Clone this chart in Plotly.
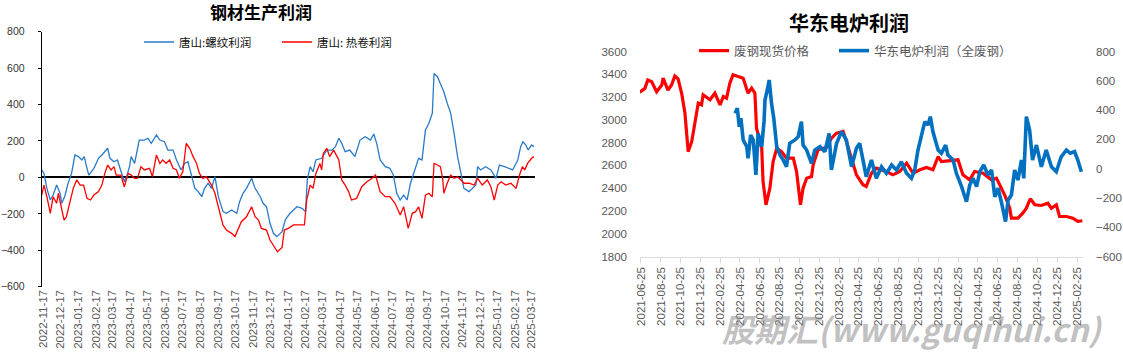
import plotly.graph_objects as go

# ---------------- Left chart: 钢材生产利润 ----------------
rebar_dates = ["2022-11-14","2022-11-18","2022-11-23","2022-11-29","2022-12-04","2022-12-10","2022-12-16","2022-12-19","2022-12-24","2022-12-30",
 "2023-01-05","2023-01-11","2023-01-17","2023-01-23","2023-01-27","2023-02-01","2023-02-04","2023-02-13","2023-02-21","2023-02-27",
 "2023-03-04","2023-03-09","2023-03-13","2023-03-20","2023-03-26","2023-04-01","2023-04-07","2023-04-11","2023-04-16","2023-04-19",
 "2023-04-25","2023-05-03","2023-05-12","2023-05-18","2023-05-24","2023-06-02","2023-06-08","2023-06-16","2023-06-22","2023-07-01",
 "2023-07-07","2023-07-15","2023-07-21","2023-07-27","2023-08-02","2023-08-08","2023-08-14","2023-08-20","2023-08-25","2023-08-31",
 "2023-09-06","2023-09-12","2023-09-18","2023-09-26","2023-10-02","2023-10-11","2023-10-20","2023-10-25","2023-10-31","2023-11-06",
 "2023-11-15","2023-11-21","2023-11-30","2023-12-05","2023-12-11","2023-12-17","2023-12-23","2023-12-29","2024-01-07","2024-01-13",
 "2024-01-21","2024-02-02","2024-02-11","2024-02-17","2024-02-20","2024-02-25","2024-03-01","2024-03-06","2024-03-16","2024-03-25",
 "2024-04-03","2024-04-09","2024-04-15","2024-04-20","2024-04-26","2024-05-04","2024-05-13","2024-05-22","2024-05-31","2024-06-09",
 "2024-06-15","2024-06-20","2024-06-26","2024-07-05","2024-07-13","2024-07-19","2024-07-25","2024-07-31","2024-08-06","2024-08-12",
 "2024-08-18","2024-08-24","2024-09-01","2024-09-07","2024-09-13","2024-09-19","2024-09-25","2024-09-28","2024-10-04","2024-10-10",
 "2024-10-15","2024-10-21","2024-10-27","2024-11-02","2024-11-08","2024-11-14","2024-11-19","2024-11-28","2024-12-04","2024-12-10",
 "2024-12-13","2024-12-18","2024-12-27","2025-01-05","2025-01-14","2025-01-20","2025-01-29","2025-02-06","2025-02-12","2025-02-21",
 "2025-02-26","2025-03-02","2025-03-07","2025-03-11","2025-03-17","2025-03-21"]
rebar_profit = [41,22,-60,-124,-97,-42,-87,-142,-106,-32,
 22,123,114,96,114,41,13,50,105,123,
 141,160,105,86,96,41,-24,4,59,114,
 77,205,205,215,187,233,205,196,150,150,
 96,41,77,86,4,-60,-78,-106,-60,-32,
 -60,4,-106,-188,-197,-179,-197,-133,-87,-60,
 -5,-60,-106,-142,-161,-252,-307,-325,-298,-230,
 -197,-161,-170,-188,-14,59,31,96,105,150,
 150,169,215,187,141,150,114,205,223,205,
 238,187,96,59,50,13,-87,-124,-97,-124,
 -32,22,105,96,260,297,352,571,553,507,
 470,407,352,242,114,22,-60,-78,-60,-42,
 59,41,59,41,-5,68,59,50,41,96,
 169,196,178,150,178,169]

coil_dates = ["2022-11-14","2022-11-18","2022-11-23","2022-11-29","2022-12-04","2022-12-10","2022-12-13","2022-12-19","2022-12-23","2022-12-27",
 "2023-01-02","2023-01-08","2023-01-14","2023-01-20","2023-01-26","2023-02-01","2023-02-07","2023-02-13","2023-02-21","2023-02-27",
 "2023-03-04","2023-03-09","2023-03-15","2023-03-20","2023-03-24","2023-04-01","2023-04-07","2023-04-14","2023-04-19","2023-04-25",
 "2023-04-30","2023-05-06","2023-05-12","2023-05-21","2023-05-26","2023-06-02","2023-06-08","2023-06-13","2023-06-19","2023-06-25",
 "2023-07-01","2023-07-07","2023-07-12","2023-07-18","2023-07-24","2023-07-30","2023-08-05","2023-08-11","2023-08-16","2023-08-22",
 "2023-08-28","2023-09-06","2023-09-12","2023-09-18","2023-09-26","2023-10-02","2023-10-11","2023-10-17","2023-10-22","2023-10-28",
 "2023-11-06","2023-11-15","2023-11-21","2023-11-27","2023-12-02","2023-12-11","2023-12-17","2023-12-23","2023-12-30","2024-01-07",
 "2024-01-11","2024-01-18","2024-01-27","2024-02-08","2024-02-15","2024-02-19","2024-02-25","2024-03-01","2024-03-06","2024-03-13",
 "2024-03-16","2024-03-19","2024-03-25","2024-03-30","2024-04-06","2024-04-12","2024-04-15","2024-04-20","2024-04-26","2024-05-02",
 "2024-05-07","2024-05-16","2024-05-25","2024-06-03","2024-06-12","2024-06-18","2024-06-26","2024-07-05","2024-07-13","2024-07-22",
 "2024-07-31","2024-08-06","2024-08-14","2024-08-21","2024-08-27","2024-09-01","2024-09-07","2024-09-13","2024-09-19","2024-09-25",
 "2024-09-28","2024-10-04","2024-10-09","2024-10-13","2024-10-15","2024-10-21","2024-10-27","2024-11-02","2024-11-08","2024-11-14",
 "2024-11-19","2024-11-28","2024-12-07","2024-12-13","2024-12-21","2024-12-30","2025-01-05","2025-01-11","2025-01-17","2025-01-23",
 "2025-01-31","2025-02-09","2025-02-18","2025-02-24","2025-03-01","2025-03-05","2025-03-10","2025-03-17","2025-03-21"]
coil_profit = [-97,-42,-106,-197,-106,-142,-87,-179,-234,-216,
 -142,-60,-14,-42,-42,-115,-124,-97,-78,-42,
 22,68,41,59,13,13,-51,22,13,-5,
 -5,59,41,50,4,123,77,96,77,96,
 50,41,-5,31,187,160,114,77,22,-5,
 4,-42,-87,-161,-261,-289,-307,-325,-289,-243,
 -216,-161,-216,-234,-280,-289,-344,-371,-408,-385,
 -289,-280,-261,-261,-261,-124,-42,-60,22,77,
 41,132,160,114,150,114,96,-14,-42,-78,
 -124,-115,-51,-24,-5,13,-78,-106,-106,-142,
 -206,-161,-280,-197,-188,-161,-225,-97,-87,-106,
 77,68,59,-5,-87,-32,13,-5,4,-14,
 -32,-32,-42,-5,-42,-14,-51,-124,-42,-24,
 -42,-32,-60,13,59,41,77,105,114]

left_ticks = ["2022-11-17","2022-12-17","2023-01-17","2023-02-17","2023-03-17","2023-04-17","2023-05-17","2023-06-17",
 "2023-07-17","2023-08-17","2023-09-17","2023-10-17","2023-11-17","2023-12-17","2024-01-17","2024-02-17","2024-03-17",
 "2024-04-17","2024-05-17","2024-06-17","2024-07-17","2024-08-17","2024-09-17","2024-10-17","2024-11-17","2024-12-17",
 "2025-01-17","2025-02-17","2025-03-17"]

# ---------------- Right chart: 华东电炉利润 ----------------
scrap_dates = ["2021-06-21","2021-07-07","2021-07-16","2021-07-28","2021-08-12","2021-08-28","2021-09-01","2021-09-16","2021-09-27","2021-10-07",
 "2021-10-17","2021-10-28","2021-11-07","2021-11-17","2021-11-28","2021-12-08","2021-12-18","2021-12-28","2022-01-02","2022-01-23",
 "2022-02-07","2022-02-23","2022-03-05","2022-03-15","2022-03-25","2022-04-04","2022-04-25","2022-05-05","2022-05-20","2022-05-31",
 "2022-06-10","2022-06-15","2022-07-01","2022-07-05","2022-07-14","2022-07-26","2022-08-05","2022-08-16","2022-08-31","2022-09-15",
 "2022-10-06","2022-10-16","2022-10-28","2022-11-05","2022-11-16","2022-12-01","2022-12-06","2022-12-21","2023-01-16","2023-01-31",
 "2023-02-16","2023-03-08","2023-03-18","2023-04-18","2023-04-28","2023-05-08","2023-05-18","2023-06-03","2023-06-18","2023-07-19",
 "2023-08-08","2023-08-29","2023-09-19","2023-10-09","2023-10-30","2023-11-19","2023-12-09","2023-12-25","2024-01-04","2024-01-30",
 "2024-02-24","2024-03-10","2024-03-31","2024-04-15","2024-05-11","2024-06-06","2024-06-21","2024-07-01","2024-07-16","2024-08-01",
 "2024-08-06","2024-08-26","2024-09-10","2024-09-21","2024-10-03","2024-10-17","2024-11-06","2024-11-26","2024-12-07","2024-12-22",
 "2025-01-01","2025-01-22","2025-02-11","2025-02-26","2025-03-12"]
scrap_price = [3242,3276,3350,3335,3247,3306,3367,3260,3306,3385,
 3360,3233,3060,2720,2810,2985,3147,3132,3220,3176,
 3234,3132,3205,3190,3322,3395,3380,3366,3234,3278,
 3234,2926,2750,2460,2254,2400,2634,2750,2720,2663,
 2663,2546,2254,2400,2488,2503,2605,2737,2757,2839,
 2883,2898,2810,2517,2473,2430,2415,2532,2576,2546,
 2517,2546,2620,2532,2561,2581,2561,2678,2634,2640,
 2649,2517,2473,2546,2532,2473,2488,2430,2342,2224,
 2137,2137,2180,2224,2307,2254,2248,2268,2224,2254,
 2151,2151,2137,2108,2114]

eaf_dates = ["2022-04-10","2022-04-17","2022-04-23","2022-04-28","2022-05-05","2022-05-16","2022-05-20","2022-05-28","2022-06-05","2022-06-13",
 "2022-06-20","2022-07-01","2022-07-08","2022-07-11","2022-07-18","2022-07-24","2022-07-31","2022-08-07","2022-08-16","2022-08-26",
 "2022-09-05","2022-09-15","2022-09-25","2022-10-11","2022-10-21","2022-10-31","2022-11-05","2022-11-16","2022-12-01","2022-12-11",
 "2022-12-27","2023-01-11","2023-01-24","2023-01-31","2023-02-16","2023-03-03","2023-03-18","2023-04-03","2023-04-18","2023-04-28",
 "2023-05-08","2023-05-18","2023-06-03","2023-06-18","2023-07-04","2023-07-19","2023-08-04","2023-08-19","2023-09-03","2023-09-19",
 "2023-10-04","2023-10-14","2023-10-24","2023-11-04","2023-11-14","2023-11-24","2023-12-01","2023-12-09","2023-12-25","2024-01-04",
 "2024-01-17","2024-01-24","2024-02-09","2024-02-19","2024-03-06","2024-03-21","2024-03-31","2024-04-10","2024-04-21","2024-05-01",
 "2024-05-13","2024-05-26","2024-06-06","2024-06-16","2024-06-26","2024-07-06","2024-07-19","2024-07-27","2024-08-06","2024-08-16",
 "2024-08-26","2024-09-06","2024-09-13","2024-09-21","2024-10-01","2024-10-10","2024-10-22","2024-11-06","2024-11-21","2024-12-07",
 "2024-12-22","2025-01-06","2025-01-22","2025-02-03","2025-02-16","2025-02-26","2025-03-09"]
eaf_profit = [378,412,286,344,196,150,71,230,196,-43,
 241,150,321,469,537,605,446,344,150,93,
 59,13,173,196,218,321,161,127,36,127,
 150,116,241,-9,173,252,196,13,139,173,
 60,-55,59,-66,13,-32,25,-9,47,-32,
 -66,-9,127,241,321,298,355,252,127,105,
 161,93,59,-32,-123,-226,-112,-66,-123,-21,
 25,-43,-9,-192,-134,-226,-362,-214,-180,-9,
 -78,59,-66,355,264,59,161,13,127,13,
 -21,81,127,105,116,59,-21]

right_ticks = ["2021-06-25","2021-08-25","2021-10-25","2021-12-25","2022-02-25","2022-04-25","2022-06-25","2022-08-25",
 "2022-10-25","2022-12-25","2023-02-25","2023-04-25","2023-06-25","2023-08-25","2023-10-25","2023-12-25","2024-02-25",
 "2024-04-25","2024-06-25","2024-08-25","2024-10-25","2024-12-25","2025-02-25"]

FONT = "Liberation Sans, Noto Sans CJK SC, sans-serif"
CJK = "Noto Sans CJK SC, sans-serif"
W, H = 1123, 357

def px_x(p):
    return p / W

def px_y(p):
    return (H - p) / H

fig = go.Figure()
fig.add_trace(go.Scatter(x=rebar_dates, y=rebar_profit, name="唐山:螺纹利润", mode="lines",
                         line=dict(color="#2A7AC8", width=1.3), xaxis="x", yaxis="y", legend="legend"))
fig.add_trace(go.Scatter(x=coil_dates, y=coil_profit, name="唐山: 热卷利润", mode="lines",
                         line=dict(color="#FF0000", width=1.3), xaxis="x", yaxis="y", legend="legend",
                         legendwidth=110))
fig.add_trace(go.Scatter(x=scrap_dates, y=scrap_price, name="废钢现货价格", mode="lines",
                         line=dict(color="#FF0000", width=3.2), xaxis="x2", yaxis="y2", legend="legend2"))
fig.add_trace(go.Scatter(x=eaf_dates, y=eaf_profit, name="华东电炉利润（全废钢）", mode="lines",
                         line=dict(color="#0070C0", width=3.6), xaxis="x2", yaxis="y3", legend="legend2",
                         legendwidth=150))

left_range = ["2022-11-14", "2025-03-23"]
right_range = ["2021-06-22", "2025-03-14"]

fig.update_layout(
    width=W, height=H, autosize=False,
    margin=dict(l=0, r=0, t=0, b=0, pad=0),
    paper_bgcolor="white", plot_bgcolor="white",
    font=dict(family=FONT, color="#404040"),
    xaxis=dict(domain=[px_x(41.7), px_x(535)], anchor="y", type="date", range=left_range, automargin=False,
               tickmode="array", tickvals=left_ticks, ticktext=left_ticks, tickangle=-90,
               showline=False, ticks="", showgrid=False, zeroline=False,
               tickfont=dict(size=11.5, color="#595959", family=FONT)),
    xaxis3=dict(overlaying="x", anchor="free", position=px_y(177.4), type="date", range=left_range, automargin=False,
                tickmode="array", tickvals=left_ticks, showticklabels=False,
                ticks="outside", ticklen=3, tickcolor="#444", showline=False, showgrid=False, zeroline=False),
    yaxis=dict(domain=[px_y(286.7), px_y(31.7)], anchor="x", range=[-600, 800], dtick=200, automargin=False,
               showline=True, linecolor="black", linewidth=1, ticks="outside", ticklen=3, tickcolor="black",
               showgrid=False, zeroline=True, zerolinecolor="black", zerolinewidth=1.5,
               ticklabelstandoff=11, tickfont=dict(size=10.5, color="#333333", family=FONT)),
    xaxis2=dict(domain=[px_x(640), px_x(1083)], anchor="y2", type="date", range=right_range, automargin=False,
                tickmode="array", tickvals=right_ticks, ticktext=right_ticks, tickangle=-90,
                showline=True, linecolor="#D9D9D9", linewidth=1, ticks="outside", ticklen=5, tickcolor="#D9D9D9",
                showgrid=False, zeroline=False, tickfont=dict(size=11.5, color="#595959", family=FONT)),
    yaxis2=dict(domain=[px_y(256.5), px_y(51.5)], anchor="x2", range=[1800, 3600], dtick=200, automargin=False,
                showline=False, ticks="", showgrid=False, zeroline=False, ticklabelstandoff=12,
                tickfont=dict(size=11.5, color="#595959", family=FONT)),
    yaxis3=dict(overlaying="y2", side="right", anchor="x2", range=[-600, 800], dtick=200, automargin=False,
                showline=False, ticks="", showgrid=False, zeroline=False, ticklabelstandoff=12,
                tickfont=dict(size=11.5, color="#595959", family=FONT)),
    legend=dict(orientation="h", x=px_x(139), y=px_y(42), xanchor="left", yanchor="middle",
                bgcolor="rgba(0,0,0,0)", font=dict(size=11.5, color="#111111", family=CJK),
                itemwidth=30, entrywidth=93, entrywidthmode="pixels", traceorder="normal"),
    legend2=dict(orientation="h", x=px_x(694), y=px_y(51), xanchor="left", yanchor="middle",
                 bgcolor="rgba(0,0,0,0)", font=dict(size=12.5, color="#595959", family=CJK),
                 itemwidth=30, entrywidth=95, entrywidthmode="pixels", traceorder="normal"),
    annotations=[
        dict(text="<b>钢材生产利润</b>", x=px_x(261), y=px_y(12), xref="paper", yref="paper",
             showarrow=False, font=dict(size=17, color="black", family=CJK), xanchor="center", yanchor="middle"),
        dict(text="<b>华东电炉利润</b>", x=px_x(849), y=px_y(23), xref="paper", yref="paper",
             showarrow=False, font=dict(size=20, color="black", family=CJK), xanchor="center", yanchor="middle"),
        dict(text="<b><i>股期汇(www.guqihui.cn)</i></b>", x=px_x(912), y=px_y(328), xref="paper", yref="paper",
             showarrow=False, font=dict(size=32, color="rgba(140,140,140,0.55)", family=CJK),
             xanchor="center", yanchor="middle"),
    ],
)

fig.write_html("out.html", config={"displayModeBar": False},
               post_script="document.body.style.margin='0px';document.body.style.overflow='hidden';")
